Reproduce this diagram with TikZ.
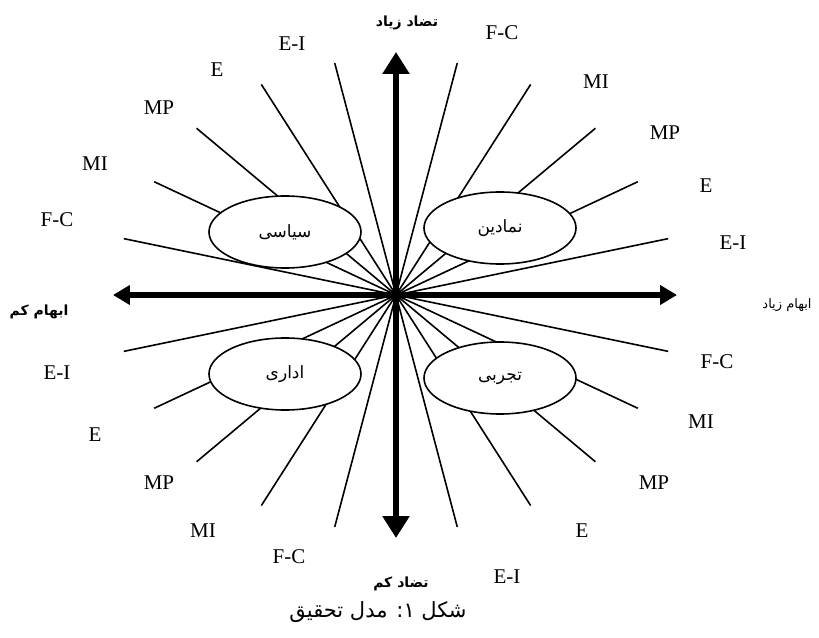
\documentclass[tikz,border=0pt]{standalone}
\usepackage{fontspec}
\setmainfont{Liberation Serif}
\newfontfamily\farsifont[Script=Arabic]{DejaVu Sans}
\TeXXeTstate=1
\usetikzlibrary{shapes.geometric, arrows.meta, positioning, calc}
\tikzset{
  axis h/.style={
    line width=6.5pt, draw=black,
    {Triangle[length=17pt,width=19pt]}-{Triangle[length=17pt,width=19pt]}
  },
  axis v/.style={
    line width=6.5pt, draw=black,
    {Triangle[length=22pt,width=26pt]}-{Triangle[length=22pt,width=26pt]}
  },
  ray line/.style={
    line width=1.6pt, draw=black
  },
  quad node/.style={
    ellipse, draw=black, fill=white, line width=1.6pt,
    minimum width=152pt, minimum height=72pt, inner sep=0pt,
    font=\farsifont\fontsize{17}{20}\selectfont
  },
  ray label/.style={
    font=\fontsize{21}{24}\selectfont, inner sep=0pt
  },
  axis label/.style={
    font=\farsifont\bfseries\fontsize{14}{16}\selectfont, inner sep=0pt
  }
}

\begin{document}
\begin{tikzpicture}[x=1pt, y=1pt]
  \useasboundingbox (-396,-342) rectangle (423,295);
  \coordinate (o) at (0,0);

  % rays, same angles in all four quarters
  \foreach \a/\r [count=\i] in {11.7/278, 25.1/267, 39.9/260, 57.4/250, 75.2/240} {
    \coordinate (ne\i) at (\a:\r);
    \coordinate (nw\i) at (180-\a:\r);
    \coordinate (sw\i) at (180+\a:\r);
    \coordinate (se\i) at (-\a:\r);
    \draw [ray line] (ne\i) -- (o) -- (sw\i);
    \draw [ray line] (nw\i) -- (o) -- (se\i);
  }

  % axes
  \coordinate (top) at (0,243);
  \coordinate (bot) at (0,-243);
  \coordinate (lft) at (-283,0);
  \coordinate (rgt) at (281,0);
  \draw [axis v] (bot) -- (top);
  \draw [axis h] (lft) -- (rgt);

  \node (siasi) [quad node] at (-111,63) {سیاسی};
  \node (namadin) [quad node] at (104,67) {نمادین};
  \node (edari) [quad node] at (-111,-79) {اداری};
  \node (tajrobi) [quad node] at (104,-83) {تجربی};

  \node (nw-ei) [ray label] at (-104,251) {E-I};
  \node (nw-e) [ray label] at (-179,225) {E};
  \node (nw-mp) [ray label] at (-237,187) {MP};
  \node (nw-mi) [ray label] at (-301,131) {MI};
  \node (nw-fc) [ray label] at (-339,75) {F-C};

  \node (ne-fc) [ray label] at (106,262) {F-C};
  \node (ne-mi) [ray label] at (200,213) {MI};
  \node (ne-mp) [ray label] at (269,162) {MP};
  \node (ne-e) [ray label] at (310,109) {E};
  \node (ne-ei) [ray label] at (337,52) {E-I};

  \node (sw-ei) [ray label] at (-339,-78) {E-I};
  \node (sw-e) [ray label] at (-301,-140) {E};
  \node (sw-mp) [ray label] at (-237,-188) {MP};
  \node (sw-mi) [ray label] at (-193,-236) {MI};
  \node (sw-fc) [ray label] at (-107,-262) {F-C};

  \node (se-fc) [ray label] at (321,-67) {F-C};
  \node (se-mi) [ray label] at (305,-127) {MI};
  \node (se-mp) [ray label] at (258,-188) {MP};
  \node (se-e) [ray label] at (186,-236) {E};
  \node (se-ei) [ray label] at (111,-282) {E-I};

  \node (hiC) [axis label] at (11,272) {\beginR تضاد زیاد\endR};
  \node (loC) [axis label] at (5,-289) {\beginR تضاد کم\endR};
  \node (loA) [axis label] at (-357,-17) {\beginR ابهام کم\endR};
  \node (hiA) [axis label, font=\farsifont\fontsize{13}{15}\selectfont] at (391,-10) {\beginR ابهام زیاد\endR};

  \node (cap) [font=\farsifont\fontsize{21}{24}\selectfont, inner sep=0pt] at (-18,-317) {\beginR شکل ۱: مدل تحقیق\endR};
\end{tikzpicture}
\end{document}
